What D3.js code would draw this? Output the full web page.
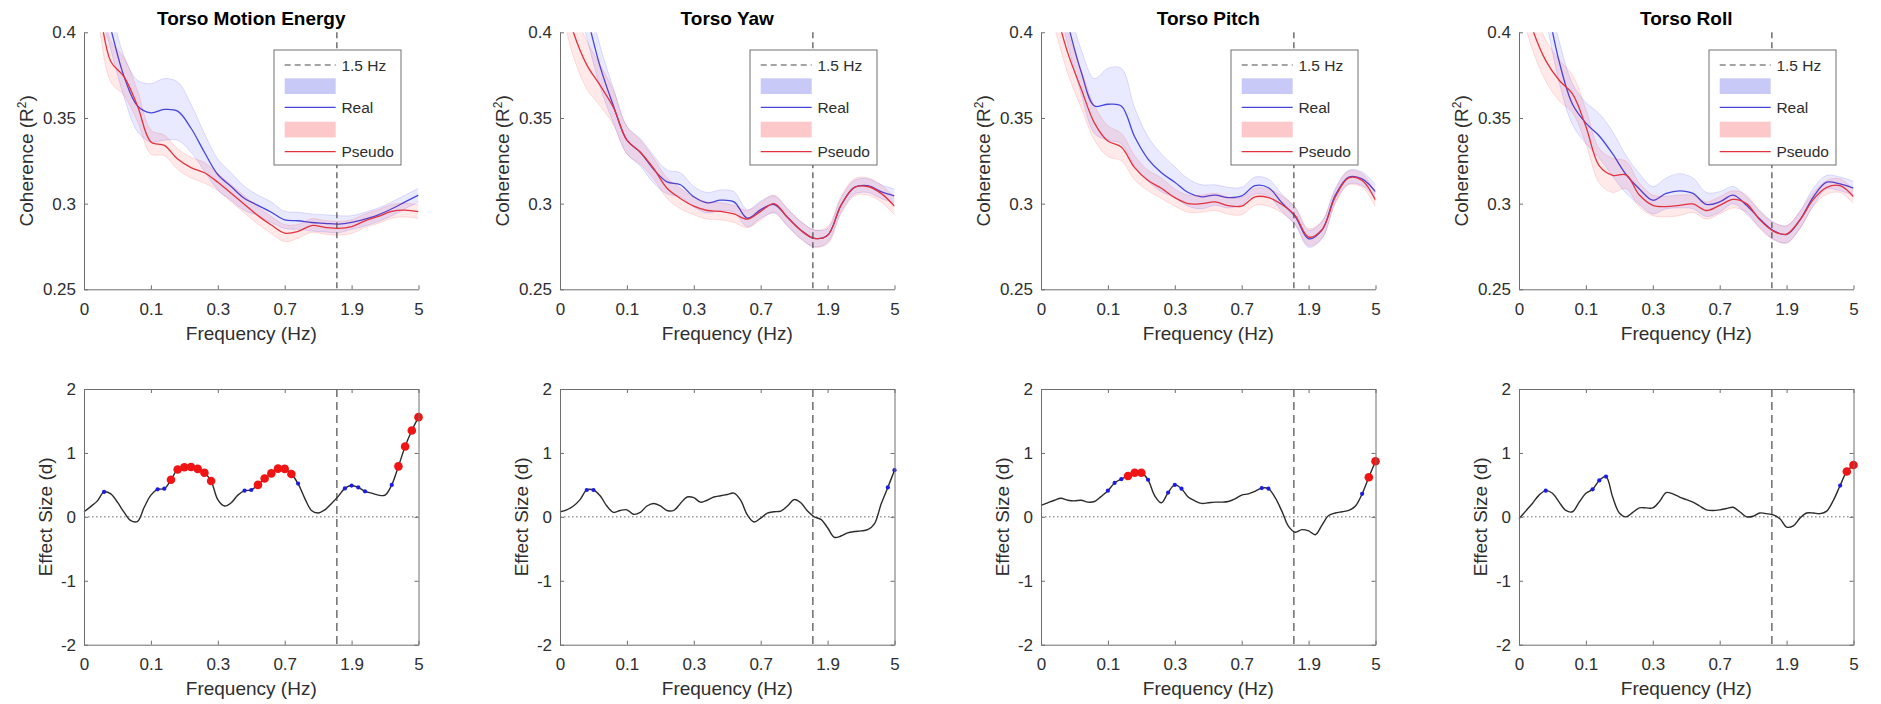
<!DOCTYPE html>
<html>
<head>
<meta charset="utf-8">
<script src="https://cdn.jsdelivr.net/npm/d3@7"></script>
<style>
body { margin: 0; background: #fff; }
svg text { font-family: "Liberation Sans", Arial, sans-serif; }
</style>
</head>
<body>
<svg id="chart" width="1881" height="704"></svg>
<script>
// ---------- data ----------
var panelTitles = ["Torso Motion Energy", "Torso Yaw", "Torso Pitch", "Torso Roll"];
var xTickPos = [0, 20, 40, 60, 80, 100];
var xTickLabels = ["0", "0.1", "0.3", "0.7", "1.9", "5"];
var hzLinePos = 75.6;   // 1.5 Hz on the bin axis
var cohTicks = [0.25, 0.3, 0.35, 0.4];
var effTicks = [-2, -1, 0, 1, 2];

// coherence sampled every 4 bins
var cohBins = [0, 4, 8, 12, 16, 20, 24, 28, 32, 36, 40, 44, 48, 52, 56, 60, 64, 68, 72, 76, 80, 84, 88, 92, 96, 100];

var realMotion   = [0.46, 0.43, 0.402, 0.374, 0.357, 0.353, 0.355, 0.354, 0.344, 0.330, 0.317, 0.310, 0.303, 0.299, 0.295, 0.2905, 0.290, 0.289, 0.2885, 0.288, 0.289, 0.291, 0.2935, 0.297, 0.301, 0.305];
var pseudoMotion = [0.45, 0.42, 0.383, 0.374, 0.357, 0.336, 0.334, 0.326, 0.321, 0.318, 0.3125, 0.306, 0.2995, 0.293, 0.2875, 0.2828, 0.2838, 0.2872, 0.2862, 0.2856, 0.2866, 0.290, 0.2925, 0.2955, 0.2962, 0.2953];
var realErrMotion   = [0.012, 0.012, 0.012, 0.012, 0.015, 0.017, 0.018, 0.017, 0.014, 0.011, 0.009, 0.008, 0.007, 0.006, 0.006, 0.005, 0.005, 0.005, 0.005, 0.005, 0.004, 0.004, 0.004, 0.004, 0.004, 0.004];
var pseudoErrMotion = [0.012, 0.012, 0.012, 0.011, 0.009, 0.007, 0.006, 0.006, 0.006, 0.006, 0.005, 0.005, 0.005, 0.005, 0.005, 0.005, 0.004, 0.004, 0.004, 0.004, 0.004, 0.004, 0.004, 0.004, 0.004, 0.004];

var realYaw   = [0.47, 0.44, 0.41, 0.38, 0.357, 0.337, 0.330, 0.320, 0.3127, 0.311, 0.304, 0.3005, 0.302, 0.301, 0.2915, 0.2965, 0.2995, 0.292, 0.2845, 0.2797, 0.2815, 0.299, 0.3095, 0.3105, 0.307, 0.3045];
var pseudoYaw = [0.43, 0.40, 0.381, 0.369, 0.356, 0.337, 0.330, 0.3205, 0.309, 0.303, 0.2985, 0.296, 0.2955, 0.294, 0.291, 0.2955, 0.300, 0.292, 0.2845, 0.2797, 0.2815, 0.299, 0.3095, 0.310, 0.306, 0.2985];
var realErrYaw   = [0.013, 0.013, 0.013, 0.012, 0.010, 0.008, 0.008, 0.008, 0.007, 0.007, 0.006, 0.006, 0.006, 0.006, 0.005, 0.005, 0.005, 0.005, 0.005, 0.005, 0.004, 0.004, 0.004, 0.004, 0.004, 0.004];
var pseudoErrYaw = [0.014, 0.014, 0.014, 0.012, 0.010, 0.008, 0.007, 0.006, 0.006, 0.006, 0.005, 0.005, 0.005, 0.005, 0.005, 0.005, 0.005, 0.005, 0.005, 0.005, 0.005, 0.005, 0.005, 0.005, 0.005, 0.005];

var realPitch   = [0.45, 0.435, 0.405, 0.377, 0.357, 0.358, 0.357, 0.339, 0.326, 0.318, 0.3125, 0.3065, 0.304, 0.305, 0.3035, 0.3045, 0.3105, 0.3093, 0.3005, 0.2925, 0.2795, 0.2845, 0.305, 0.3155, 0.3145, 0.307];
var pseudoPitch = [0.44, 0.415, 0.388, 0.367, 0.347, 0.3365, 0.333, 0.321, 0.3135, 0.309, 0.3035, 0.300, 0.300, 0.301, 0.2988, 0.2985, 0.304, 0.3035, 0.2995, 0.293, 0.2805, 0.2848, 0.304, 0.315, 0.3135, 0.302];
var realErrPitch   = [0.012, 0.012, 0.012, 0.013, 0.016, 0.021, 0.022, 0.017, 0.013, 0.011, 0.009, 0.008, 0.007, 0.006, 0.006, 0.005, 0.005, 0.005, 0.005, 0.005, 0.005, 0.005, 0.004, 0.004, 0.004, 0.004];
var pseudoErrPitch = [0.012, 0.012, 0.012, 0.011, 0.010, 0.009, 0.008, 0.007, 0.006, 0.006, 0.005, 0.005, 0.005, 0.005, 0.005, 0.005, 0.005, 0.005, 0.005, 0.005, 0.005, 0.005, 0.004, 0.004, 0.004, 0.004];

var realRoll   = [0.48, 0.46, 0.42, 0.383, 0.358, 0.347, 0.3395, 0.329, 0.317, 0.3085, 0.302, 0.306, 0.3075, 0.306, 0.2995, 0.301, 0.305, 0.299, 0.291, 0.2843, 0.282, 0.2905, 0.304, 0.3125, 0.3115, 0.309];
var pseudoRoll = [0.43, 0.402, 0.3835, 0.372, 0.364, 0.345, 0.322, 0.3165, 0.3168, 0.305, 0.299, 0.2983, 0.299, 0.2998, 0.296, 0.299, 0.3025, 0.300, 0.2905, 0.284, 0.2822, 0.2905, 0.3025, 0.3095, 0.3105, 0.304];
var realErrRoll   = [0.012, 0.012, 0.012, 0.012, 0.012, 0.012, 0.013, 0.013, 0.011, 0.009, 0.008, 0.009, 0.010, 0.009, 0.007, 0.006, 0.005, 0.005, 0.005, 0.005, 0.005, 0.005, 0.005, 0.004, 0.004, 0.004];
var pseudoErrRoll = [0.012, 0.012, 0.012, 0.012, 0.011, 0.010, 0.010, 0.010, 0.008, 0.007, 0.006, 0.006, 0.006, 0.005, 0.005, 0.005, 0.005, 0.005, 0.005, 0.005, 0.005, 0.005, 0.004, 0.004, 0.004, 0.004];

// effect size sampled every 2 bins
var effBins = [0, 2, 4, 6, 8, 10, 12, 14, 16, 18, 20, 22, 24, 26, 28, 30, 32, 34, 36, 38, 40, 42, 44, 46, 48, 50, 52, 54, 56, 58, 60, 62, 64, 66, 68, 70, 72, 74, 76, 78, 80, 82, 84, 86, 88, 90, 92, 94, 96, 98, 100];

var effMotion = [0.08, 0.16, 0.25, 0.39, 0.36, 0.23, 0.07, -0.06, -0.07, 0.15, 0.34, 0.43, 0.44, 0.58, 0.74, 0.775, 0.78, 0.75, 0.69, 0.56, 0.27, 0.17, 0.22, 0.34, 0.41, 0.42, 0.50, 0.60, 0.68, 0.755, 0.75, 0.67, 0.52, 0.29, 0.10, 0.06, 0.11, 0.21, 0.32, 0.445, 0.49, 0.46, 0.40, 0.37, 0.34, 0.34, 0.50, 0.79, 1.10, 1.35, 1.56];
var effYaw    = [0.08, 0.11, 0.17, 0.27, 0.42, 0.42, 0.33, 0.17, 0.07, 0.10, 0.11, 0.04, 0.07, 0.17, 0.21, 0.17, 0.10, 0.10, 0.21, 0.31, 0.30, 0.23, 0.26, 0.31, 0.33, 0.35, 0.37, 0.26, 0.03, -0.08, -0.02, 0.06, 0.08, 0.09, 0.17, 0.27, 0.22, 0.09, 0.0, -0.04, -0.17, -0.32, -0.30, -0.25, -0.23, -0.22, -0.20, -0.11, 0.20, 0.46, 0.73];
var effPitch  = [0.18, 0.22, 0.26, 0.29, 0.26, 0.25, 0.26, 0.23, 0.24, 0.32, 0.41, 0.53, 0.59, 0.64, 0.69, 0.69, 0.58, 0.33, 0.22, 0.38, 0.50, 0.44, 0.31, 0.25, 0.21, 0.22, 0.23, 0.23, 0.24, 0.28, 0.34, 0.36, 0.40, 0.45, 0.44, 0.30, 0.09, -0.15, -0.24, -0.20, -0.22, -0.28, -0.13, 0.02, 0.06, 0.08, 0.10, 0.17, 0.36, 0.62, 0.87];
var effRoll   = [-0.03, 0.09, 0.21, 0.34, 0.41, 0.37, 0.23, 0.10, 0.08, 0.23, 0.37, 0.43, 0.57, 0.63, 0.31, 0.06, 0.0, 0.07, 0.14, 0.14, 0.14, 0.24, 0.38, 0.36, 0.31, 0.27, 0.23, 0.17, 0.11, 0.10, 0.11, 0.13, 0.15, 0.08, 0.0, 0.01, 0.06, 0.05, 0.03, -0.03, -0.16, -0.14, -0.02, 0.06, 0.06, 0.05, 0.09, 0.26, 0.49, 0.71, 0.81];

// bins flagged significant (blue = small dot, red = large dot)
var blueMotion = [6, 22, 24, 48, 50, 64, 78, 80, 82, 84, 92];
var redMotion  = [26, 28, 30, 32, 34, 36, 38, 52, 54, 56, 58, 60, 62, 94, 96, 98, 100];
var blueYaw    = [8, 10, 98, 100];
var redYaw     = [];
var bluePitch  = [20, 22, 24, 32, 38, 40, 42, 66, 68, 96];
var redPitch   = [26, 28, 30, 98, 100];
var blueRoll   = [8, 22, 24, 26, 96];
var redRoll    = [98, 100];

var panels = [
    {title: panelTitles[0], real: realMotion, realErr: realErrMotion, pseudo: pseudoMotion, pseudoErr: pseudoErrMotion, eff: effMotion, blue: blueMotion, red: redMotion},
    {title: panelTitles[1], real: realYaw, realErr: realErrYaw, pseudo: pseudoYaw, pseudoErr: pseudoErrYaw, eff: effYaw, blue: blueYaw, red: redYaw},
    {title: panelTitles[2], real: realPitch, realErr: realErrPitch, pseudo: pseudoPitch, pseudoErr: pseudoErrPitch, eff: effPitch, blue: bluePitch, red: redPitch},
    {title: panelTitles[3], real: realRoll, realErr: realErrRoll, pseudo: pseudoRoll, pseudoErr: pseudoErrRoll, eff: effRoll, blue: blueRoll, red: redRoll}
];

// ---------- layout ----------
var colLeft = [84, 560, 1041, 1519];
var axW = 334.5;
var topRow = [32.3, 289.3];
var botRow = [389, 644.7];

var axisCol = "#6e6e6e";
var textCol = "#2e2e2e";
var realCol = "#4646dc";
var pseudoCol = "#e2323e";

var svg = d3.select('#chart');

styleAxis = function(g, labels){
    g.select(".domain").attr("stroke", axisCol);
    g.selectAll(".tick line").attr("stroke", axisCol);
    g.selectAll(".tick text")
        .attr("fill", textCol)
        .style("font-size", "17px")
        .style("font-family", "'Liberation Sans', Arial, sans-serif");
    if(!labels){ g.selectAll(".tick text").remove(); }
}

drawCoherence = function(p, k){
    var left = colLeft[k];
    var right = left + axW;
    var x = d3.scaleLinear().domain([0, 100]).range([left, right]);
    var y = d3.scaleLinear().domain([0.25, 0.4]).range([topRow[1], topRow[0]]);

    svg.append("clipPath").attr("id", "clipTop" + k)
        .append("rect")
        .attr("x", left).attr("y", topRow[0])
        .attr("width", axW).attr("height", topRow[1] - topRow[0]);

    var plot = svg.append("g").attr("clip-path", "url(#clipTop" + k + ")");

    var series = [
        {vals: p.real, errs: p.realErr, col: realCol, fill: "#0000ff"},
        {vals: p.pseudo, errs: p.pseudoErr, col: pseudoCol, fill: "#ff0000"}
    ];

    series.forEach(function(s){
        var band = d3.area()
            .x(function(d, i){ return x(cohBins[i]); })
            .y0(function(d, i){ return y(s.vals[i] - s.errs[i]); })
            .y1(function(d, i){ return y(s.vals[i] + s.errs[i]); })
            .curve(d3.curveCatmullRom);
        plot.append("path")
            .attr("d", band(s.vals))
            .attr("fill", s.fill)
            .attr("fill-opacity", 0.085);

        // faint edges of the shaded band
        [-1, 1].forEach(function(sign){
            var edge = d3.line()
                .x(function(d, i){ return x(cohBins[i]); })
                .y(function(d, i){ return y(s.vals[i] + sign * s.errs[i]); })
                .curve(d3.curveCatmullRom);
            plot.append("path")
                .attr("d", edge(s.vals))
                .attr("fill", "none")
                .attr("stroke", s.fill)
                .attr("stroke-opacity", 0.12)
                .attr("stroke-width", 1);
        });

        var line = d3.line()
            .x(function(d, i){ return x(cohBins[i]); })
            .y(function(d){ return y(d); })
            .curve(d3.curveCatmullRom);
        plot.append("path")
            .attr("d", line(s.vals))
            .attr("fill", "none")
            .attr("stroke", s.col)
            .attr("stroke-width", 1.3);
    });

    // 1.5 Hz marker
    svg.append("line")
        .attr("x1", x(hzLinePos)).attr("x2", x(hzLinePos))
        .attr("y1", topRow[0]).attr("y2", topRow[1])
        .attr("stroke", "#4a4a4a")
        .attr("stroke-width", 1.2)
        .attr("stroke-dasharray", "6,4");

    // axes (no box on the coherence plots)
    var gx = svg.append("g")
        .attr("transform", "translate(0," + topRow[1] + ")")
        .call(d3.axisBottom(x).tickValues(xTickPos)
            .tickFormat(function(d, i){ return xTickLabels[i]; })
            .tickSizeInner(-4).tickSizeOuter(0).tickPadding(14));
    styleAxis(gx, true);

    var gy = svg.append("g")
        .attr("transform", "translate(" + left + ",0)")
        .call(d3.axisLeft(y).tickValues(cohTicks)
            .tickFormat(function(d){ return String(d); })
            .tickSizeInner(-4).tickSizeOuter(0).tickPadding(8));
    styleAxis(gy, true);

    // title and labels
    svg.append("text")
        .attr("x", (left + right) / 2).attr("y", 25)
        .attr("text-anchor", "middle")
        .style("font-size", "19px").style("font-weight", "bold")
        .attr("fill", "#000")
        .text(p.title);

    svg.append("text")
        .attr("x", (left + right) / 2).attr("y", topRow[1] + 51)
        .attr("text-anchor", "middle")
        .style("font-size", "19px")
        .attr("fill", textCol)
        .text("Frequency (Hz)");

    var yl = svg.append("text")
        .attr("transform", "translate(" + (left - 51) + "," + ((topRow[0] + topRow[1]) / 2) + ") rotate(-90)")
        .attr("text-anchor", "middle")
        .style("font-size", "19px")
        .attr("fill", textCol);
    yl.append("tspan").text("Coherence (R");
    yl.append("tspan").attr("baseline-shift", "super").style("font-size", "12px").text("2");
    yl.append("tspan").text(")");

    // legend
    var lg = svg.append("g").attr("transform", "translate(" + (right - 17.5 - 127) + ",50)");
    lg.append("rect")
        .attr("width", 127).attr("height", 115)
        .attr("fill", "#fff")
        .attr("stroke", "#707070");
    lg.append("line")
        .attr("x1", 10.7).attr("x2", 61.7).attr("y1", 15).attr("y2", 15)
        .attr("stroke", "#4a4a4a").attr("stroke-width", 1.2).attr("stroke-dasharray", "6,4");
    lg.append("rect").attr("x", 10.7).attr("y", 28.3).attr("width", 51).attr("height", 15.7).attr("fill", "#c9c9f8");
    lg.append("line").attr("x1", 10.7).attr("x2", 61.7).attr("y1", 57.3).attr("y2", 57.3)
        .attr("stroke", realCol).attr("stroke-width", 1.3);
    lg.append("rect").attr("x", 10.7).attr("y", 71.7).attr("width", 51).attr("height", 15.7).attr("fill", "#fcc8ca");
    lg.append("line").attr("x1", 10.7).attr("x2", 61.7).attr("y1", 101.7).attr("y2", 101.7)
        .attr("stroke", pseudoCol).attr("stroke-width", 1.3);
    var legendText = [["1.5 Hz", 15], ["Real", 57.3], ["Pseudo", 101.7]];
    legendText.forEach(function(t){
        lg.append("text")
            .attr("x", 67.4).attr("y", t[1])
            .attr("dy", "0.36em")
            .style("font-size", "15.5px")
            .attr("fill", textCol)
            .text(t[0]);
    });
}

drawEffect = function(p, k){
    var left = colLeft[k];
    var right = left + axW;
    var x = d3.scaleLinear().domain([0, 100]).range([left, right]);
    var y = d3.scaleLinear().domain([-2, 2]).range([botRow[1], botRow[0]]);

    // zero reference
    svg.append("line")
        .attr("x1", left).attr("x2", right)
        .attr("y1", y(0)).attr("y2", y(0))
        .attr("stroke", "#666").attr("stroke-width", 1)
        .attr("stroke-dasharray", "1.5,2.5");

    svg.append("line")
        .attr("x1", x(hzLinePos)).attr("x2", x(hzLinePos))
        .attr("y1", botRow[0]).attr("y2", botRow[1])
        .attr("stroke", "#4a4a4a")
        .attr("stroke-width", 1.2)
        .attr("stroke-dasharray", "8,5");

    var line = d3.line()
        .x(function(d, i){ return x(effBins[i]); })
        .y(function(d){ return y(d); })
        .curve(d3.curveCatmullRom);
    svg.append("path")
        .attr("d", line(p.eff))
        .attr("fill", "none")
        .attr("stroke", "#2b2b2b")
        .attr("stroke-width", 1.4);

    svg.append("g").selectAll(null)
        .data(p.blue)
        .enter()
        .append("circle")
        .attr("cx", function(d){ return x(d); })
        .attr("cy", function(d){ return y(p.eff[effBins.indexOf(d)]); })
        .attr("r", 2.1)
        .attr("fill", "#1c1ce6");

    svg.append("g").selectAll(null)
        .data(p.red)
        .enter()
        .append("circle")
        .attr("cx", function(d){ return x(d); })
        .attr("cy", function(d){ return y(p.eff[effBins.indexOf(d)]); })
        .attr("r", 4.3)
        .attr("fill", "#f01414");

    // boxed axes, ticks pointing in
    var gx = svg.append("g")
        .attr("transform", "translate(0," + botRow[1] + ")")
        .call(d3.axisBottom(x).tickValues(xTickPos)
            .tickFormat(function(d, i){ return xTickLabels[i]; })
            .tickSizeInner(-4).tickSizeOuter(0).tickPadding(13));
    styleAxis(gx, true);
    var gxt = svg.append("g")
        .attr("transform", "translate(0," + botRow[0] + ")")
        .call(d3.axisTop(x).tickValues(xTickPos).tickSizeInner(-4).tickSizeOuter(0));
    styleAxis(gxt, false);

    var gy = svg.append("g")
        .attr("transform", "translate(" + left + ",0)")
        .call(d3.axisLeft(y).tickValues(effTicks)
            .tickFormat(function(d){ return String(d); })
            .tickSizeInner(-4).tickSizeOuter(0).tickPadding(8));
    styleAxis(gy, true);
    var gyr = svg.append("g")
        .attr("transform", "translate(" + right + ",0)")
        .call(d3.axisRight(y).tickValues(effTicks).tickSizeInner(-4).tickSizeOuter(0));
    styleAxis(gyr, false);

    svg.append("text")
        .attr("x", (left + right) / 2).attr("y", botRow[1] + 50)
        .attr("text-anchor", "middle")
        .style("font-size", "19px")
        .attr("fill", textCol)
        .text("Frequency (Hz)");

    svg.append("text")
        .attr("transform", "translate(" + (left - 32) + "," + ((botRow[0] + botRow[1]) / 2) + ") rotate(-90)")
        .attr("text-anchor", "middle")
        .style("font-size", "19px")
        .attr("fill", textCol)
        .text("Effect Size (d)");
}

panels.forEach(function(p, k){
    drawCoherence(p, k);
    drawEffect(p, k);
});
</script>
</body>
</html>
